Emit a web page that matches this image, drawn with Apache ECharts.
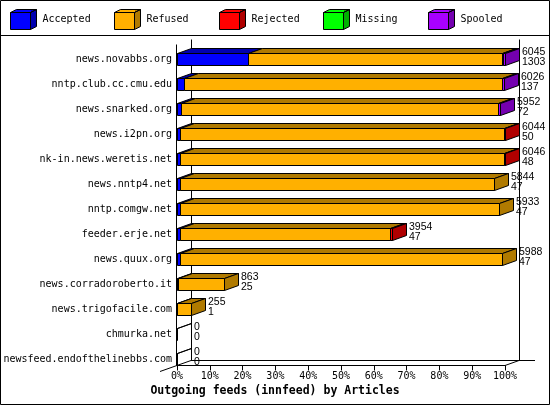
<!DOCTYPE html>
<html><head><meta charset="utf-8">
<script src="https://cdn.jsdelivr.net/npm/echarts@6/dist/echarts.min.js"></script>
<style>html,body{margin:0;padding:0;background:#fff}#c{width:550px;height:405px}</style>
</head><body><div id="c"></div>
<script>
// ---- data (article counts) ----
const categories = ['news.novabbs.org','nntp.club.cc.cmu.edu','news.snarked.org','news.i2pn.org','nk-in.news.weretis.net','news.nntp4.net','nntp.comgw.net','feeder.erje.net','news.quux.org','news.corradoroberto.it','news.trigofacile.com','chmurka.net','newsfeed.endofthelinebbs.com'];
const offered  = [6045, 6026, 5952, 6044, 6046, 5844, 5933, 3954, 5988, 863, 255, 0, 0];
const accepted = [1303, 137, 72, 50, 48, 47, 47, 47, 47, 25, 1, 0, 0];
const refused  = [4687, 5849, 5840, 5969, 5973, 5797, 5886, 3887, 5941, 838, 254, 0, 0];
const rejected = [15, 0, 0, 25, 25, 0, 0, 20, 0, 0, 0, 0, 0];
const missing  = [0, 0, 0, 0, 0, 0, 0, 0, 0, 0, 0, 0, 0];
const spooled  = [40, 40, 40, 0, 0, 0, 0, 0, 0, 0, 0, 0, 0];
const tickLabels = ['0%','10%','20%','30%','40%','50%','60%','70%','80%','90%','100%'];
const seriesNames = ['Accepted','Refused','Rejected','Missing','Spooled'];
const titleText = 'Outgoing feeds (innfeed) by Articles';

// ---- styling ----
const bright = ['#0000FF','#FFB000','#FF0000','#00FF00','#A800FF'];
const dark   = ['#0000B0','#B07A00','#B00000','#00B000','#7400B0'];
const legendLeft = [10, 114, 219, 323, 428];
const MONO = '"DejaVu Sans Mono", monospace';
const DX = 14, DY = -5, HALF = 6;

const parts = [accepted, refused, rejected, missing, spooled];
const maxOffered = Math.max.apply(null, offered);

function buildSeriesData(k) {
  const out = [];
  for (let r = 0; r < categories.length; r++) {
    let start = 0;
    for (let j = 0; j < k; j++) start += parts[j][r];
    const end = start + parts[k][r];
    let last = 1;
    for (let j = k + 1; j < parts.length; j++) if (parts[j][r] > 0) last = 0;
    if (parts[k][r] > 0 || (offered[r] === 0 && k === 0)) {
      out.push([start / maxOffered * 100, end / maxOffered * 100, r, last]);
    }
  }
  return out;
}

function barRender(k) {
  return function (params, api) {
    const s = api.value(0), e = api.value(1), r = api.value(2), last = api.value(3);
    const p0 = api.coord([s, r]), p1 = api.coord([e, r]);
    const x0 = Math.round(p0[0]) + 0.5, x1 = Math.round(p1[0]) + 0.5;
    const yc = Math.round(p0[1]);
    const top = yc - HALF + 0.5, bot = yc + HALF + 0.5;
    const st = (c) => ({ fill: c, stroke: '#000', lineWidth: 1 });
    const children = [
      { type: 'polygon', shape: { points: [[x0, top], [x1, top], [x1, bot], [x0, bot]] }, style: st(bright[k]) },
      { type: 'polygon', shape: { points: [[x0, top], [x0 + DX, top + DY], [x1 + DX, top + DY], [x1, top]] }, style: st(dark[k]) }
    ];
    if (last && e > s) {
      children.push({ type: 'polygon', shape: { points: [[x1, top], [x1 + DX, top + DY], [x1 + DX, bot + DY], [x1, bot]] }, style: st(dark[k]) });
    }
    return { type: 'group', children: children };
  };
}

function labelRender(params, api) {
  const p = api.coord([api.value(0), api.value(1)]);
  const x = Math.round(p[0]) + DX + 3;
  const yc = Math.round(p[1]);
  const f = '10.5px "Liberation Sans", Arial, sans-serif';
  return { type: 'group', children: [
    { type: 'text', style: { text: String(api.value(2)), x: x, y: yc - 7, fill: '#000', font: f, align: 'left', verticalAlign: 'middle' } },
    { type: 'text', style: { text: String(api.value(3)), x: x, y: yc + 3, fill: '#000', font: f, align: 'left', verticalAlign: 'middle' } }
  ] };
}

function frameRender(params, api) {
  const a = api.coord([0, 0]);
  const b = api.coord([100, categories.length - 1]);
  const x0 = Math.round(a[0]), x1 = Math.round(b[0]);
  const yTop = Math.round(a[1]) - HALF - 9 + 0.5;
  const yFloor = Math.round(b[1]) + HALF + 0.5;
  const L = (p, q) => ({ type: 'line', shape: { x1: p[0], y1: p[1], x2: q[0], y2: q[1] }, style: { stroke: '#000', lineWidth: 1 } });
  return { type: 'group', children: [
    L([x0 - 0.5, yTop], [x0 - 0.5, yFloor]),
    L([x0 + DX + 0.5, yTop + DY], [x0 + DX + 0.5, yFloor + DY]),
    L([x1 + DX + 0.5, yTop + DY], [x1 + DX + 0.5, yFloor + DY]),
    L([x0 + DX, yFloor + DY], [x1 + DX + 16, yFloor + DY]),
    L([x0 - 17, yFloor + 6], [x0 + DX, yFloor + DY]),
    L([x1, yFloor], [x1 + DX, yFloor + DY])
  ] };
}

const cubeIcon = 'path://M0,3L20,3L20,20L0,20Z M0,3L6,0L26,0L20,3Z M20,3L26,0L26,17L20,20Z';
function grad(k) {
  return new echarts.graphic.LinearGradient(0, 0, 1, 0, [
    { offset: 0, color: bright[k] }, { offset: 0.77, color: bright[k] },
    { offset: 0.77, color: dark[k] }, { offset: 1, color: dark[k] }
  ]);
}

const legends = seriesNames.map((n, k) => ({
  left: legendLeft[k], top: 9, padding: 0, itemWidth: 26, itemHeight: 20, itemGap: 0,
  icon: cubeIcon, selectedMode: false,
  textStyle: { fontFamily: MONO, fontSize: 10, color: '#000', padding: [2, 0, 0, 1] },
  data: [{ name: n, itemStyle: { color: grad(k), borderColor: '#000', borderWidth: 1 } }]
}));

const series = [{
  type: 'custom', name: '_frame', z: 1, silent: true, clip: false,
  renderItem: frameRender, data: [[0, 0]], encode: { x: 0, y: 1 }
}];
seriesNames.forEach((n, k) => {
  series.push({
    type: 'custom', name: n, z: 2, clip: false, color: bright[k],
    renderItem: barRender(k), data: buildSeriesData(k),
    dimensions: ['start', 'end', 'row', 'last'], encode: { x: [0, 1], y: 2 }
  });
});
series.push({
  type: 'custom', name: '_labels', z: 3, silent: true, clip: false,
  renderItem: labelRender,
  data: categories.map((c, r) => [offered[r] / maxOffered * 100, r, offered[r], accepted[r]]),
  encode: { x: 0, y: 1 }
});

const chart = echarts.init(document.getElementById('c'), null, { renderer: 'canvas' });
chart.setOption({
  animation: false,
  backgroundColor: '#fff',
  title: { text: titleText, left: 'center', top: 385, padding: 0,
    textStyle: { fontFamily: MONO, fontWeight: 'bold', fontSize: 11.5, color: '#000' } },
  legend: legends,
  grid: { left: 177, right: 45, top: 46.5, bottom: 33.5, containLabel: false, outerBoundsMode: 'none' },
  xAxis: {
    type: 'value', min: 0, max: 100, interval: 10, offset: -6,
    axisLine: { show: true, lineStyle: { color: '#000', width: 1 } },
    axisTick: { show: true, length: 5, lineStyle: { color: '#000' } },
    splitLine: { show: false },
    axisLabel: { margin: 6, fontFamily: MONO, fontSize: 10, color: '#000',
      formatter: (v) => tickLabels[Math.round(v / 10)] }
  },
  yAxis: {
    type: 'category', inverse: true, data: categories,
    axisLine: { show: false }, axisTick: { show: false }, splitLine: { show: false },
    axisLabel: { margin: 5, fontFamily: MONO, fontSize: 10, color: '#000', interval: 0 }
  },
  graphic: [
    { type: 'rect', shape: { x: 0.5, y: 0.5, width: 549, height: 404 }, style: { fill: null, stroke: '#000', lineWidth: 1 }, silent: true },
    { type: 'line', shape: { x1: 0, y1: 35.5, x2: 550, y2: 35.5 }, style: { stroke: '#000', lineWidth: 1 }, silent: true }
  ],
  series: series
});
</script></body></html>
